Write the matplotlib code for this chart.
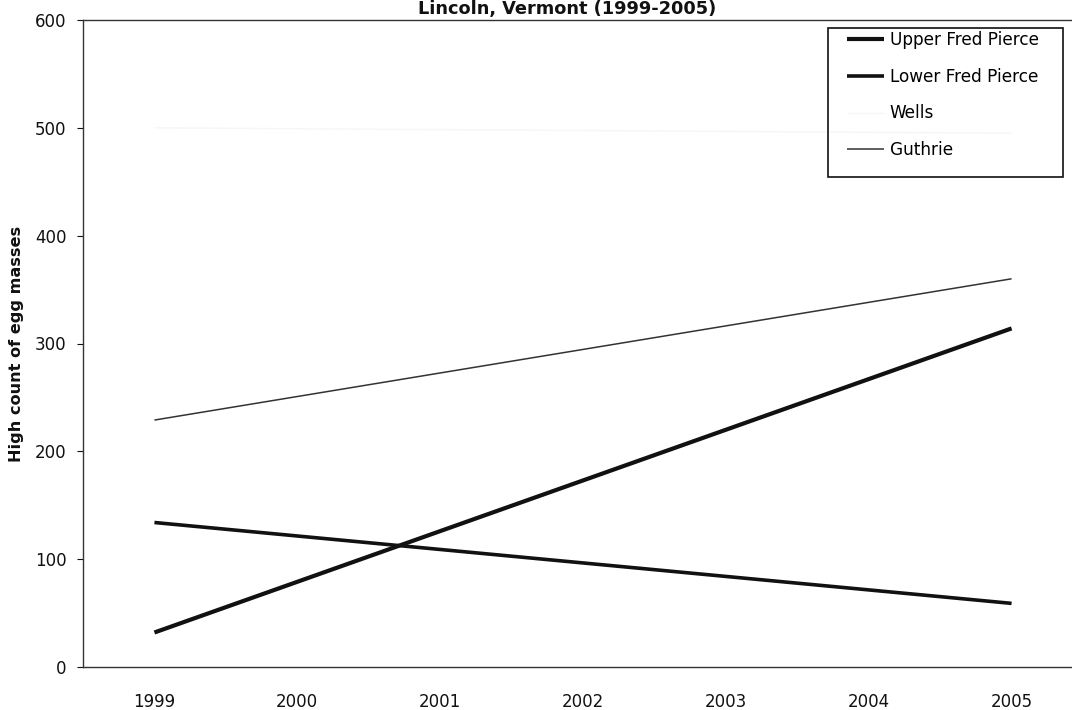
import matplotlib
matplotlib.use("Agg")
import matplotlib.pyplot as plt
from matplotlib.patches import Rectangle

years = ["1999", "2000", "2001", "2002", "2003", "2004", "2005"]

# counts recorded at the start and end of the survey period
end_idx = [0, 6]
upper_fred_pierce = [32, 314]
lower_fred_pierce = [134, 59]
wells = [500, 495]
guthrie = [229, 360]

series = [
    ("Upper Fred Pierce", upper_fred_pierce, "#111111", 3.0),
    ("Lower Fred Pierce", lower_fred_pierce, "#111111", 2.6),
    ("Wells", wells, "#f6f6f6", 1.0),
    ("Guthrie", guthrie, "#333333", 1.1),
]

plt.rcParams["font.family"] = ["DejaVu Sans"]

W, H = 1072, 710
fig = plt.figure(figsize=(W / 100, H / 100), dpi=100)
fig.patch.set_facecolor("white")
ax = fig.add_axes([83 / W, 43 / H, 1000 / W, 647 / H])

for name, vals, color, lw in series:
    ax.plot(end_idx, vals, color=color, lw=lw, label=name, solid_capstyle="butt")

ax.set_xlim(-0.5, 6.5)
ax.set_ylim(0, 600)
ax.set_xticks(range(len(years)))
ax.set_xticklabels(years)
ax.set_yticks(range(0, 601, 100))
ax.tick_params(axis="x", length=0, labelsize=12, pad=19, colors="#111111")
ax.tick_params(axis="y", length=4, width=0.8, labelsize=12, pad=8, colors="#111111")

for side in ("left", "bottom", "top", "right"):
    ax.spines[side].set_color("#333333")
    ax.spines[side].set_linewidth(1.0)

ax.set_ylabel("High count of egg masses", fontsize=11.6, fontweight="bold",
              color="#111111", labelpad=8)

fig.text(0.529, 1 - 14 / H, "Lincoln, Vermont (1999-2005)", ha="center",
         va="baseline", fontsize=12.8, fontweight="bold", color="#111111")

# legend entries without frame; the box is drawn separately with a wider right margin
leg = ax.legend(loc="upper left", bbox_to_anchor=(761 / 1000, 1 - 8 / 647),
                frameon=False, fontsize=12.2, handlelength=2.2,
                handletextpad=0.3, labelspacing=1.1, borderpad=0.19,
                borderaxespad=0)
fig.add_artist(Rectangle((828 / W, 1 - 177 / H), 235 / W, 149 / H,
                         transform=fig.transFigure, fill=False,
                         ec="#111111", lw=1.2, zorder=6))

fig.savefig("out.png", dpi=100, facecolor="white")
